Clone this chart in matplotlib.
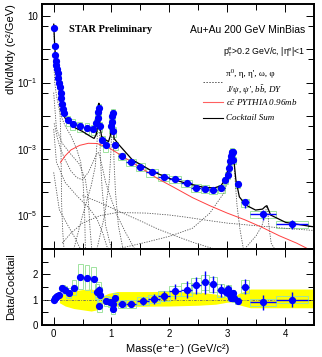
import numpy as np
import matplotlib
matplotlib.use("Agg")
import matplotlib.pyplot as plt
from matplotlib.patches import Rectangle
from matplotlib.ticker import FixedLocator, FuncFormatter, MultipleLocator

plt.rcParams['font.family'] = ['Liberation Sans', 'DejaVu Sans']
plt.rcParams['mathtext.fontset'] = 'custom'
plt.rcParams['mathtext.rm'] = 'Liberation Sans'
plt.rcParams['mathtext.it'] = 'Liberation Serif:italic'

# ---- measured dielectron yield (top panel)
top_m = [0.005, 0.02, 0.03, 0.04, 0.05, 0.06, 0.075, 0.085, 0.10, 0.11,
         0.12, 0.13, 0.14, 0.16, 0.18, 0.25, 0.33, 0.45, 0.58, 0.68,
         0.74, 0.76, 0.775, 0.785, 0.795, 0.84, 0.90, 0.99, 1.005, 1.015,
         1.025, 1.035, 1.07, 1.18, 1.34, 1.50, 1.70, 1.90, 2.10, 2.30,
         2.46, 2.61, 2.75, 2.90, 2.97, 3.01, 3.03, 3.05, 3.065, 3.075,
         3.085, 3.095, 3.105, 3.18, 3.31, 3.62, 4.12]
top_y = [4.3, 1.26, 0.67, 0.45, 0.33, 0.25, 0.19, 0.14, 0.10, 0.072,
         0.05, 0.035, 0.022, 0.016, 0.012, 0.0076, 0.0058, 0.005, 0.0044, 0.004,
         0.006, 0.0085, 0.013, 0.017, 0.005, 0.0019, 0.0013, 0.0048, 0.0065, 0.010,
         0.012, 0.0035, 0.0013, 0.00063, 0.00041, 0.0003, 0.0002, 0.000145, 0.000126, 0.000095,
         0.00007, 0.000065, 0.00006, 0.000066, 0.00012, 0.00017, 0.00028, 0.00045, 0.00063, 0.00075,
         0.00085, 0.0008, 0.00048, 0.00009, 0.000025, 0.0000112, 0.0000056]
top_xerr = [0]*32 + [0.04, 0.06, 0.08, 0.08, 0.1, 0.1, 0.1, 0.1,
                     0.08, 0.07, 0.07, 0.06, 0.01, 0.01, 0.01, 0.01, 0.01, 0.01,
                     0.01, 0.01, 0.01, 0.04, 0.07, 0.22, 0.27]
top_yerr_rel = [0.03]*15 + [0.1]*17 + [0.15]*11 + [0.15]*10 + [0.2, 0.3, 0.35, 0.3]
top_sys_rel = [0.1]*15 + [0.35]*17 + [0.25]*25

# ---- cocktail components (dotted)
pi0_m = [0.002, 0.01, 0.02, 0.04, 0.06, 0.08, 0.10, 0.115, 0.125, 0.132, 0.14, 0.16, 0.18]
pi0_v = [6.0, 2.2, 1.0, 0.35, 0.16, 0.07, 0.025, 0.008, 0.002, 3e-4, 2e-5, 3e-6, 1e-6]
eta_m = [0.002, 0.02, 0.05, 0.1, 0.15, 0.2, 0.3, 0.4, 0.47, 0.51, 0.535, 0.55]
eta_v = [0.5, 0.1, 0.04, 0.015, 0.008, 0.005, 0.0025, 0.001, 0.0004, 1e-4, 1.5e-5, 1e-6]
omdal_m = [0.002, 0.05, 0.15, 0.3, 0.45, 0.55, 0.6, 0.63, 0.66]
omdal_v = [0.05, 0.004, 0.0015, 0.0007, 0.00035, 0.00012, 3e-5, 4e-6, 1e-6]
etap_m = [0.002, 0.05, 0.2, 0.4, 0.6, 0.75, 0.85, 0.92, 0.96]
etap_v = [0.004, 4e-4, 1e-4, 4e-5, 1.8e-5, 8e-6, 3e-6, 1.2e-6, 1e-6]
phidal_m = [0.002, 0.1, 0.25, 0.38, 0.44, 0.47]
phidal_v = [2e-4, 1.5e-5, 5e-6, 2e-6, 1.2e-6, 1e-6]
rho_m = [0.01, 0.06, 0.12, 0.2, 0.3, 0.4, 0.5, 0.6, 0.68, 0.74, 0.77, 0.8, 0.85, 0.9, 1.0, 1.1, 1.25, 1.4]
rho_v = [6e-3, 2.4e-3, 1e-3, 4.8e-4, 2.2e-4, 1.4e-4, 1.2e-4, 2e-4, 4e-4, 7e-4, 8e-4, 6e-4,
         2.5e-4, 1e-4, 3e-5, 1e-5, 3e-6, 1e-6]
omega_m = [0.35, 0.5, 0.65, 0.72, 0.75, 0.77, 0.78, 0.79, 0.81, 0.84, 0.9, 1.0]
omega_v = [1e-6, 1e-5, 8e-5, 3e-4, 1.5e-3, 8e-3, 0.02, 6e-3, 5e-4, 6e-5, 5e-6, 1e-6]
phi_m = [0.75, 0.88, 0.96, 0.99, 1.005, 1.015, 1.02, 1.03, 1.045, 1.07, 1.12, 1.2]
phi_v = [1e-6, 1e-5, 1e-4, 8e-4, 4e-3, 0.011, 0.012, 4e-3, 4e-4, 5e-5, 5e-6, 1e-6]
jpsi_m = [1.1, 1.6, 2.0, 2.4, 2.7, 2.86, 2.95, 3.0, 3.04, 3.07, 3.09, 3.1, 3.115, 3.14, 3.17, 3.22, 3.28]
jpsi_v = [1e-6, 1.6e-6, 2.4e-6, 4.2e-6, 1.2e-5, 3e-5, 5e-5, 1e-4, 2.5e-4, 5.5e-4, 8e-4, 8.5e-4,
          5e-4, 1e-4, 2e-5, 4e-6, 1e-6]
psip_m = [3.3, 3.5, 3.6, 3.65, 3.68, 3.69, 3.7, 3.72, 3.76, 3.82]
psip_v = [1e-6, 2.5e-6, 5e-6, 1e-5, 1.8e-5, 2e-5, 1.5e-5, 5e-6, 1.5e-6, 1e-6]
bb_m = [0.15, 0.3, 0.5, 0.8, 1.1, 1.6, 2.0, 2.3, 2.6, 3.0, 3.5, 4.0, 4.5]
bb_v = [1.5e-6, 3e-6, 6e-6, 1e-5, 1.25e-5, 1.2e-5, 1.05e-5, 9e-6, 7.5e-6, 6e-6, 5e-6, 4.2e-6, 3.6e-6]
dy_m = [0.5, 0.8, 1.15, 1.5, 1.8, 2.1, 2.4, 2.7, 3.0]
dy_v = [4e-5, 2.5e-5, 1.3e-5, 7e-6, 4e-6, 2.5e-6, 1.6e-6, 1.1e-6, 8e-7]

# ---- charm (PYTHIA) and cocktail sum
ccbar_m = [0.12, 0.2, 0.3, 0.45, 0.6, 0.75, 0.95, 1.2, 1.5, 1.8, 2.1, 2.4, 2.7, 3.0, 3.3, 3.6, 3.9, 4.2, 4.4]
ccbar_v = [4e-4, 6.3e-4, 9.5e-4, 1.3e-3, 1.5e-3, 1.48e-3, 1.12e-3, 6e-4, 2.8e-4, 1.3e-4,
           6.8e-5, 3.5e-5, 2e-5, 1.2e-5, 7.6e-6, 4.5e-6, 2.5e-6, 1.5e-6, 1e-6]
sum_m = [0.003, 0.02, 0.04, 0.06, 0.08, 0.10, 0.12, 0.15, 0.2, 0.33, 0.5, 0.64, 0.70, 0.74, 0.76,
         0.775, 0.783, 0.79, 0.80, 0.83, 0.9, 0.95, 0.98, 1.0, 1.012, 1.02, 1.03, 1.045, 1.13,
         1.36, 1.72, 2.0, 2.29, 2.58, 2.77, 2.89, 2.97, 3.02, 3.05, 3.08, 3.1, 3.12, 3.15, 3.21,
         3.32, 3.49, 3.61, 3.66, 3.685, 3.71, 3.75, 4.01, 4.47]
sum_v = [5.6, 1.26, 0.45, 0.25, 0.14, 0.089, 0.04, 0.014, 0.0085, 0.0048, 0.0034, 0.0024, 0.0021,
         0.0028, 0.0056, 0.0126, 0.024, 0.0126, 0.005, 0.0024, 0.0019, 0.0017, 0.0025, 0.0063,
         0.0126, 0.0135, 0.0063, 0.0021, 0.00135, 0.00048, 0.00021, 0.000132, 9.5e-5, 7.2e-5,
         6.8e-5, 7.9e-5, 1.26e-4, 2.8e-4, 5.6e-4, 8.9e-4, 8.9e-4, 4e-4, 1.2e-4, 3.7e-5, 2.1e-5,
         1.48e-5, 1.58e-5, 1.9e-5, 2e-5, 1.58e-5, 1.05e-5, 6.3e-6, 4.7e-6]

# ---- data / cocktail ratio (bottom panel)
r_m = [0.005, 0.02, 0.04, 0.06, 0.09, 0.15, 0.20, 0.26, 0.35, 0.46,
       0.58, 0.69, 0.75, 0.78, 0.80, 0.79, 0.91, 0.98, 1.02, 1.03,
       1.07, 1.18, 1.34, 1.55, 1.74, 1.91, 2.10, 2.30, 2.46, 2.61,
       2.75, 2.89, 2.98, 3.02, 3.04, 3.06, 3.08, 3.10, 3.12, 3.18,
       3.31, 3.62, 4.12]
r_y = [1.0, 1.05, 1.1, 1.15, 1.2, 1.45, 1.37, 1.27, 1.47, 1.91,
       1.87, 1.8, 1.32, 1.4, 1.2, 0.76, 0.96, 0.92, 0.84, 0.63,
       1.05, 0.84, 0.84, 0.95, 1.03, 1.16, 1.33, 1.4, 1.56, 1.69,
       1.6, 1.37, 1.29, 1.42, 1.2, 1.08, 1.13, 1.25, 1.07, 0.96,
       1.51, 0.89, 1.0]
r_yerr = [0.03, 0.03, 0.03, 0.03, 0.04, 0.05, 0.05, 0.06, 0.06, 0.1,
          0.12, 0.12, 0.15, 0.12, 0.12, 0.1, 0.12, 0.12, 0.1, 0.1,
          0.12, 0.12, 0.12, 0.15, 0.2, 0.2, 0.3, 0.35, 0.35, 0.45,
          0.35, 0.25, 0.15, 0.15, 0.12, 0.1, 0.1, 0.1, 0.1, 0.1,
          0.3, 0.3, 0.3]
r_xerr = [0]*21 + [0.06, 0.08, 0.1, 0.1, 0.1, 0.1, 0.1, 0.08, 0.07, 0.07, 0.06,
                   0.01, 0.01, 0.01, 0.01, 0.01, 0.01, 0.01, 0.03, 0.07, 0.22, 0.27]
r_sys = [0.08]*5 + [0.12, 0.15, 0.2, 0.3, 0.5, 0.5, 0.5, 0.3, 0.3, 0.3, 0.25, 0.2, 0.2, 0.2, 0.2,
                    0.2, 0.15, 0.15, 0.15, 0.15, 0.2, 0.2, 0.25, 0.3, 0.3, 0.3, 0.25,
                    0.15, 0.15, 0.15, 0.15, 0.15, 0.15, 0.15, 0.15, 0.25, 0.15, 0.15]

# cocktail uncertainty band
band_m = [0.1, 0.2, 0.35, 0.5, 0.65, 0.75, 0.85, 0.95, 1.1, 1.5, 2.0, 2.5, 2.8, 3.0, 3.1, 3.2, 3.4, 3.8, 4.5]
band_hi = [1.15, 1.25, 1.35, 1.4, 1.42, 1.35, 1.15, 1.25, 1.32, 1.32, 1.32, 1.3, 1.22, 1.1, 1.08, 1.25, 1.42, 1.42, 1.42]
band_lo = [0.88, 0.75, 0.65, 0.6, 0.55, 0.6, 0.85, 0.78, 0.74, 0.74, 0.75, 0.78, 0.82, 0.9, 0.92, 0.8, 0.68, 0.68, 0.68]

W, H = 322, 357
fig = plt.figure(figsize=(W/100, H/100), dpi=100)
ax1 = fig.add_axes([42/W, 1-249/H, 272/W, 245/H])
ax2 = fig.add_axes([42/W, 1-325/H, 272/W, 76/H])

box_col = '#9fe39f'
dot_col = '#555555'

# top panel
for m, y, xe, s in zip(top_m, top_y, top_xerr, top_sys_rel):
    hw = max(xe, 0.04)
    ax1.add_patch(Rectangle((m-hw, y*(1-s)), 2*hw, y*2*s, fill=False,
                            edgecolor=box_col, lw=0.7, zorder=1))

comps = [(pi0_m, pi0_v), (eta_m, eta_v), (omdal_m, omdal_v), (etap_m, etap_v),
         (phidal_m, phidal_v), (rho_m, rho_v), (omega_m, omega_v), (phi_m, phi_v),
         (jpsi_m, jpsi_v), (psip_m, psip_v), (bb_m, bb_v), (dy_m, dy_v)]
for cm, cv in comps:
    ax1.plot(cm, cv, color=dot_col, lw=0.6, ls=(0, (1.5, 1.5)), zorder=2)
ax1.plot(ccbar_m, ccbar_v, color='#ff4040', lw=0.7, zorder=3)
ax1.plot(sum_m, sum_v, color='black', lw=0.9, zorder=4)

ty = np.array(top_y)
ax1.errorbar(top_m, top_y, xerr=top_xerr, yerr=ty*np.array(top_yerr_rel), fmt='o',
             color='blue', ms=4.2, elinewidth=1, capsize=0, zorder=5)

ax1.set_yscale('log')
ax1.set_xlim(-0.2, 4.5)
ax1.set_ylim(1e-6, 23)
ax1.yaxis.set_major_locator(FixedLocator([10.0**k for k in range(-6, 2)]))
ax1.yaxis.set_minor_locator(FixedLocator([5*10.0**k for k in range(-6, 1)]))

def fmt_log(v, pos):
    k = int(round(np.log10(v)))
    if k % 2 == 0:
        return ''
    if k == 1:
        return '10'
    return '10$^{%d}$' % k

ax1.yaxis.set_major_formatter(FuncFormatter(fmt_log))
ax1.yaxis.set_minor_formatter(FuncFormatter(lambda v, p: ''))
ax1.xaxis.set_major_locator(MultipleLocator(1))
ax1.xaxis.set_minor_locator(MultipleLocator(0.5))
ax1.tick_params(axis='x', labelbottom=False)

# bottom panel
ax2.fill_between(band_m, band_lo, band_hi, color='#ffff00', lw=0, zorder=1)
ax2.axhline(1, color='#666666', lw=0.6, ls=(0, (3, 1.5, 1, 1.5)), zorder=2)
for m, y, xe, s in zip(r_m, r_y, r_xerr, r_sys):
    hw = max(xe, 0.04)
    ax2.add_patch(Rectangle((m-hw, y-s), 2*hw, 2*s, fill=False,
                            edgecolor=box_col, lw=0.7, zorder=3))
ax2.errorbar(r_m, r_y, xerr=r_xerr, yerr=r_yerr, fmt='o', color='blue', ms=4.2,
             elinewidth=1, capsize=0, zorder=5)
ax2.set_xlim(-0.2, 4.5)
ax2.set_ylim(0, 3.0)
ax2.yaxis.set_major_locator(FixedLocator([0, 1, 2]))
ax2.yaxis.set_minor_locator(MultipleLocator(0.5))
ax2.xaxis.set_major_locator(MultipleLocator(1))
ax2.xaxis.set_minor_locator(MultipleLocator(0.5))

for ax in (ax1, ax2):
    for sp in ax.spines.values():
        sp.set_linewidth(1.4)
    ax.tick_params(which='both', direction='in', top=True, right=True,
                   labelsize=7, pad=3, width=0.7)
    ax.tick_params(which='major', length=6)
    ax.tick_params(which='minor', length=4)

# texts
serif = ['Liberation Serif', 'DejaVu Serif']
ax1.text(0.099, 0.894, 'STAR Preliminary', transform=ax1.transAxes, family=serif,
         fontweight='bold', fontsize=7.5, va='center')
ax1.text(0.967, 0.894, 'Au+Au 200 GeV MinBias', transform=ax1.transAxes,
         fontsize=7.5, ha='right', va='center')
ax1.text(0.967, 0.806, r'p$_{\mathrm{T}}^{\mathrm{e}}$>0.2 GeV/c, |η$^{\mathrm{e}}$|<1',
         transform=ax1.transAxes, fontsize=6.3, ha='right', va='center')

def ax_x(px):
    return (px - 42) / 272

def ax_y(py):
    return (249 - py) / 245

ax1.plot([ax_x(203), ax_x(223)], [ax_y(82), ax_y(82)], transform=ax1.transAxes,
         color=dot_col, lw=0.7, ls=(0, (1.5, 1.5)))
ax1.plot([ax_x(203), ax_x(223)], [ax_y(102), ax_y(102)], transform=ax1.transAxes,
         color='#ff6060', lw=0.8)
ax1.plot([ax_x(203), ax_x(223)], [ax_y(118), ax_y(118)], transform=ax1.transAxes,
         color='black', lw=0.8)
ax1.text(ax_x(226), ax_y(74), 'π⁰, η, η\', ω, φ', transform=ax1.transAxes,
         family=serif, fontsize=6.5, va='center')
ax1.text(ax_x(226), ax_y(90), r"J/ψ, ψ', b$\bar{b}$, DY", transform=ax1.transAxes,
         family=serif, style='italic', fontsize=6.5, va='center')
ax1.text(ax_x(226), ax_y(102), r'$c\bar{c}$ PYTHIA 0.96mb', transform=ax1.transAxes,
         family=serif, style='italic', fontsize=6.5, va='center')
ax1.text(ax_x(226), ax_y(118), 'Cocktail Sum', transform=ax1.transAxes,
         family=serif, style='italic', fontsize=6.5, va='center')

fig.text(11/W, 1-4/H, 'dN/dMdy (c²/GeV)', rotation=90, ha='center', va='top', fontsize=8)
fig.text(11/W, 1-287/H, 'Data/Cocktail', rotation=90, ha='center', va='center', fontsize=8)
fig.text(178/W, 1-349/H, 'Mass(e⁺e⁻) (GeV/c²)', ha='center', va='center', fontsize=8)

fig.savefig('out.png', dpi=100)
